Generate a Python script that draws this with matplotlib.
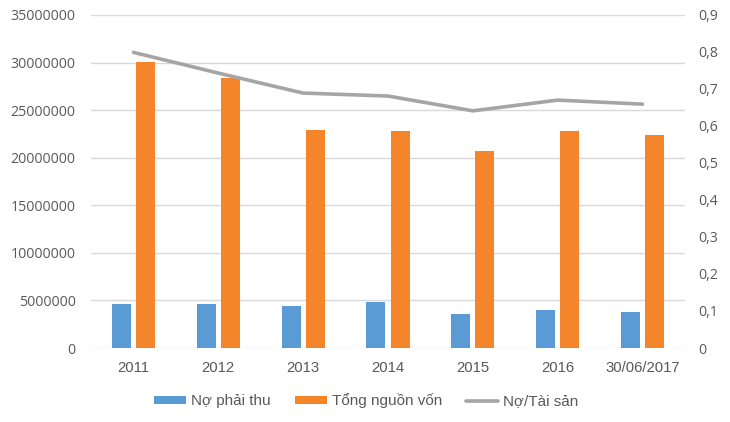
import matplotlib.pyplot as plt
import numpy as np
from matplotlib.ticker import FuncFormatter

years = ["2011", "2012", "2013", "2014", "2015", "2016", "30/06/2017"]
no_phai_thu = [4620000, 4620000, 4440000, 4830000, 3600000, 4020000, 3780000]
tong_nguon_von = [30100000, 28360000, 22940000, 22800000, 20700000, 22830000, 22340000]
no_tai_san = [0.799, 0.743, 0.689, 0.681, 0.641, 0.670, 0.659]

left_ticks = np.arange(0, 35000001, 5000000)
right_ticks = np.arange(0, 0.91, 0.1)

blue = "#5B9BD5"
orange = "#F5852A"
grey = "#A5A5A5"
text_col = "#595959"

fig = plt.figure(figsize=(7.3, 4.22), dpi=100)
ax = fig.add_axes([91 / 730, 74 / 422, 594 / 730, 333 / 422])
ax2 = ax.twinx()

x = np.arange(len(years))
w = 0.224
off = 0.1415
b1 = ax.bar(x - off, no_phai_thu, w, color=blue, label="Nợ phải thu", zorder=3)
b2 = ax.bar(x + off, tong_nguon_von, w, color=orange, label="Tổng nguồn vốn", zorder=3)
ln, = ax2.plot(x, no_tai_san, color=grey, lw=2.6, label="Nợ/Tài sản", solid_capstyle="round")

ax.set_xlim(-0.5, len(years) - 0.5)
ax.set_ylim(0, 35000000)
ax.set_yticks(left_ticks)
ax.yaxis.set_major_formatter(FuncFormatter(lambda v, p: f"{int(v)}"))
ax.grid(axis="y", color="#D9D9D9", lw=1, zorder=0)
ax.set_axisbelow(True)
ax.set_xticks(x)
ax.set_xticklabels(years, fontfamily="Liberation Sans", fontsize=10.7, color=text_col)
ax.tick_params(axis="x", length=0, pad=9)
ax.tick_params(axis="y", length=0, pad=11, labelcolor=text_col)
for t in ax.get_yticklabels():
    t.set_fontfamily("Open Sans")
    t.set_fontsize(10.2)

ax2.set_ylim(0, 0.9)
ax2.set_yticks(right_ticks)
ax2.yaxis.set_major_formatter(FuncFormatter(
    lambda v, p: "0" if abs(v) < 1e-9 else f"{v:.1f}".replace(".", ",")))
ax2.tick_params(axis="y", length=0, pad=9.5, labelcolor=text_col)
for t in ax2.get_yticklabels():
    t.set_fontfamily("Open Sans")
    t.set_fontsize(10.2)

for a in (ax, ax2):
    for s in a.spines.values():
        s.set_visible(False)

fig.legend(handles=[b1, b2, ln], loc="center", bbox_to_anchor=(0.502, 21 / 422),
           ncol=3, frameon=False, handlelength=2.1, handleheight=0.46, handletextpad=0.33,
           columnspacing=1.57, prop={"family": "Liberation Sans", "size": 11},
           labelcolor=text_col)

fig.savefig("out.png", dpi=100)
